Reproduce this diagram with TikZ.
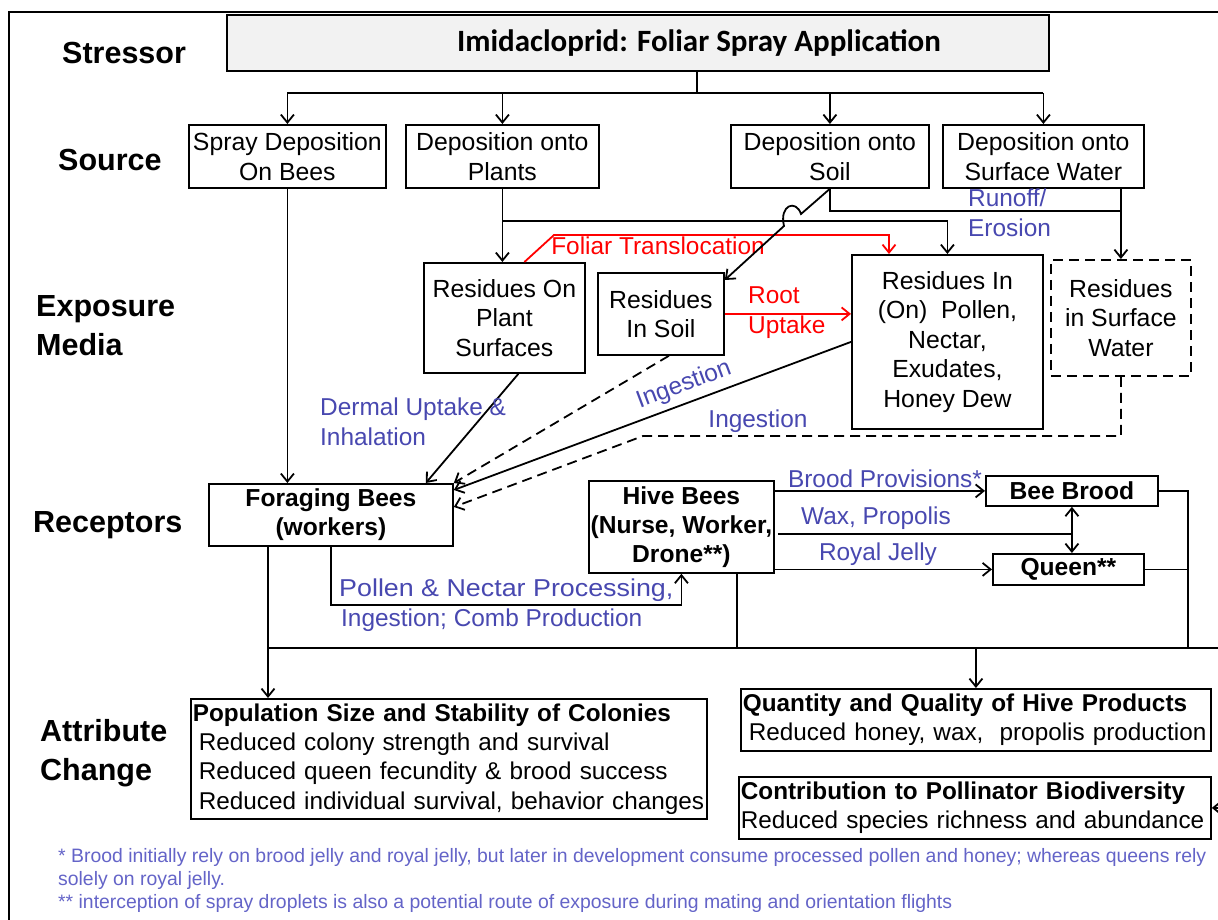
\documentclass[tikz,border=0pt]{standalone}
\usepackage{fontspec}
\setmainfont{Liberation Sans}
\newfontfamily\titlefont{Carlito}
\usetikzlibrary{arrows.meta,calc}
\definecolor{lblue}{RGB}{72,72,176}
\definecolor{fblue}{RGB}{100,100,200}
\definecolor{boxgray}{RGB}{242,242,242}
\begin{document}
\begin{tikzpicture}[x=1pt,y=-1pt,
  box/.style={draw, line width=1.8pt, inner sep=0pt, align=center, anchor=north west,
    font=\fontsize{24.8}{29.5}\selectfont},
  bbox/.style={box, font=\bfseries\fontsize{24.6}{29}\selectfont},
  attr/.style={box, align=left, inner xsep=2pt, font=\fontsize{24.3}{29.3}\selectfont},
  conn/.style={line width=1.8pt},
  arr/.style={conn, -{Straight Barb[length=8pt,width=13pt]}},
  darr/.style={arr, dash pattern=on 10pt off 6pt},
  rarr/.style={arr, draw=red},
  lbl/.style={text=lblue, font=\fontsize{24.4}{30}\selectfont, inner sep=0pt},
  rlbl/.style={lbl, text=red},
  rowlbl/.style={font=\bfseries\fontsize{30.5}{39}\selectfont, anchor=west, align=left, inner sep=0pt}]

\useasboundingbox (0,0) rectangle (1218,920);
\fill[white] (0,0) rectangle (1218,920);
\clip (0,0) rectangle (1218,920);

% outer frame
\draw[line width=2pt] (9,925) -- (9,12) -- (1225,12);

% row headings
\node[rowlbl] (hStress) at (62,53) {Stressor};
\node[rowlbl] (hSource) at (58,160) {Source};
\node[rowlbl] (hMedia) at (36,326) {Exposure\\Media};
\node[rowlbl] (hRecep) at (33,525) {Receptors};
\node[rowlbl] (hAttr) at (40,753) {Attribute\\Change};

% stressor
\node[box, fill=boxgray, minimum width=822pt, minimum height=56pt,
  font=\titlefont\bfseries\fontsize{31}{34}\selectfont] (str) at (226,14)
  {\hspace*{122pt}Imidacloprid: Foliar Spray Application};

% sources
\node[box, minimum width=197pt, minimum height=63pt] (s1) at (188,124) {Spray Deposition\\On Bees};
\node[box, minimum width=193pt, minimum height=63pt] (s2) at (405,124) {Deposition onto\\Plants};
\node[box, minimum width=198pt, minimum height=63pt] (s3) at (730,124) {Deposition onto\\Soil};
\node[box, minimum width=201pt, minimum height=63pt] (s4) at (942,124) {Deposition onto\\Surface Water};

% exposure media
\node[box, minimum width=161pt, minimum height=110pt] (rps) at (423,262) {Residues On\\Plant\\Surfaces};
\node[box, minimum width=126pt, minimum height=82pt] (rsoil) at (597,272) {Residues\\In Soil};
\node[box, minimum width=191pt, minimum height=174pt] (rpol) at (851,254)
  {Residues In\\(On)\ \ Pollen,\\Nectar,\\Exudates,\\Honey Dew};
\node[box, dash pattern=on 10pt off 6pt, minimum width=140pt, minimum height=116pt] (rsw) at (1050,259)
  {Residues\\in Surface\\Water};

% receptors
\node[bbox, minimum width=244pt, minimum height=62pt] (fb) at (208,483) {Foraging Bees\\(workers)};
\node[bbox, minimum width=185pt, minimum height=92pt] (hb) at (588,480) {Hive Bees\\(Nurse, Worker,\\Drone**)};
\node[bbox, minimum width=172pt, minimum height=30pt] (bb) at (985,475) {Bee Brood};
\node[bbox, minimum width=151pt, minimum height=31pt] (qn) at (992,553) {Queen**};

% attribute change
\node[attr, text width=512pt, minimum height=120pt] (pop) at (190,698)
  {{\bfseries Population Size and Stability of Colonies}\\
   \hspace*{6pt}Reduced colony strength and survival\\
   \hspace*{6pt}Reduced queen fecundity \& brood success\\
   \hspace*{6pt}Reduced individual survival, behavior changes};
\node[attr, text width=466pt, minimum height=62pt] (qp) at (740,688)
  {{\bfseries Quantity and Quality of Hive Products}\\
   \hspace*{6pt}Reduced honey, wax,\ \ propolis production};
\node[attr, text width=468pt, minimum height=62pt] (cb) at (738,776)
  {{\bfseries Contribution to Pollinator Biodiversity}\\
   Reduced species richness and abundance};

% footnotes
\node[anchor=west, align=left, inner sep=0pt, text=fblue, font=\fontsize{19.4}{23}\selectfont] (fn) at (58,880)
  {* Brood initially rely on brood jelly and royal jelly, but later in development consume processed pollen and honey; whereas queens rely\\
   solely on royal jelly.\\
   ** interception of spray droplets is also a potential route of exposure during mating and orientation flights};

% stressor to sources
\coordinate (bus0) at (697,93);
\draw[conn] (str.south -| bus0) -- (bus0);
\draw[conn] (s1.north |- bus0) -- (s4.north |- bus0);
\foreach \n in {s1,s2,s3,s4} \draw[arr] (\n.north |- bus0) -- (\n.north);

% plants
\coordinate (j1) at (s2.south |- 0,221);
\draw[arr] (s2.south) -- (s2.south |- rps.north);
\draw[arr] (j1) -| (rpol.north);
\draw[rarr] ([xshift=20pt]rps.north) -- (554,235) -| ([xshift=38pt]rpol.north west);
\node[rlbl] (ftl) at (658,246) {Foliar Translocation};

% soil and surface water
\coordinate (j2) at (rsw.north |- 0,211);
\draw[conn] (s3.south) |- (j2);
\draw[arr] (s4.south -| rsw.north) -- (rsw.north);
\node[lbl, anchor=west, align=left] (roe) at (968,213) {Runoff/\\Erosion};
\draw[arr] (s3.south) -- (801,214) .. controls (796,199) and (779,205) .. (784,226)
  -- ([yshift=-8pt]rsoil.north east);
\draw[rarr] (rsoil.east) -- (rsoil.east -| rpol.west);
\node[rlbl, anchor=west, align=left] (rup) at (748,313) {Root\\Uptake};

% routes to foraging bees
\draw[arr] (s1.south) -- (s1.south |- fb.north);
\draw[arr] ([xshift=14pt]rps.south) -- ([xshift=-28pt]fb.north east);
\draw[darr] ([xshift=8pt]rsoil.south) -- (fb.north east);
\draw[arr] (rpol.west) -- ([yshift=-7pt]fb.north east);
\coordinate (k1) at (643,436);
\draw[darr] (rsw.south) |- (k1) -- ([yshift=-24pt]fb.north east);
\node[lbl, anchor=west, align=left] (dul) at (320,422) {Dermal Uptake \&\\Inhalation};
\node[lbl, rotate=20.6] (ing1) at (684,385) {Ingestion};
\node[lbl] (ing2) at (758,421) {Ingestion};

% hive
\draw[arr] (hb.east |- bb.west) -- (bb.west);
\node[lbl] (bpl) at (885,479) {Brood Provisions*};
\coordinate (wx) at ([xshift=3pt,yshift=-7pt]hb.east);
\draw[conn] (wx) -- (wx -| bb.south);
\node[lbl] (wpl) at (876,518) {Wax, Propolis};
\draw[conn, {Straight Barb[length=8pt,width=13pt]}-{Straight Barb[length=8pt,width=13pt]}]
  (bb.south) -- (bb.south |- qn.north);
\draw[arr] (hb.east |- qn.west) -- (qn.west);
\node[lbl] (rjl) at (878,554) {Royal Jelly};

\draw[arr] (fb.south) -- ++(0,58) -| (hb.south);
\node[lbl, anchor=west, xscale=1.1] (pnl) at (339,590) {Pollen \& Nectar Processing,};
\node[lbl, anchor=west] (icl) at (341,620) {Ingestion; Comb Production};

% to attribute change
\coordinate (fx) at ([xshift=60pt]fb.south west);
\draw[arr] (fx) -- (fx |- pop.north);
\coordinate (busL) at (fx |- 0,648);
\coordinate (busR) at (1240,648);
\draw[conn] (busL) -- (busR);
\coordinate (hx) at ([xshift=55.5pt]hb.south);
\draw[conn] (hx) -- (hx |- busL);
\coordinate (bx) at (1188,648);
\draw[conn] (bb.east) -| (bx);
\draw[conn] (qn.east) -- (qn.east -| bx);
\draw[arr] (qp.north |- busL) -- (qp.north);
\draw[arr] (busR) |- (cb.east);
\end{tikzpicture}
\end{document}
